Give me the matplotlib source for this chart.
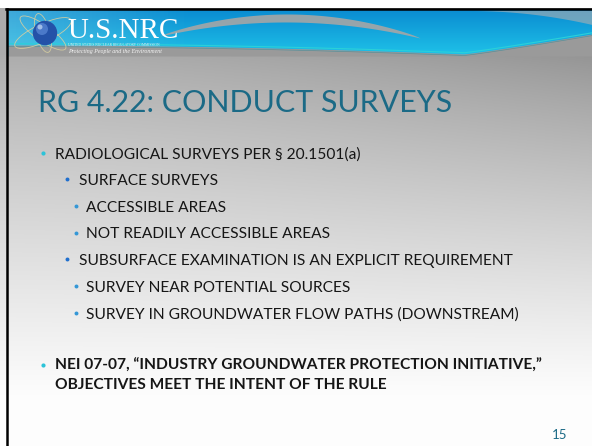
import numpy as np
import matplotlib
matplotlib.use('Agg')
import matplotlib.pyplot as plt
from matplotlib.patches import Circle, Ellipse

# slide content
title_text = "RG 4.22: CONDUCT SURVEYS"
bullet_texts = [
    "RADIOLOGICAL SURVEYS PER § 20.1501(a)",
    "SURFACE SURVEYS",
    "ACCESSIBLE AREAS",
    "NOT READILY ACCESSIBLE AREAS",
    "SUBSURFACE EXAMINATION IS AN EXPLICIT REQUIREMENT",
    "SURVEY NEAR POTENTIAL SOURCES",
    "SURVEY IN GROUNDWATER FLOW PATHS (DOWNSTREAM)",
]
bullet_levels = [1, 2, 3, 3, 2, 3, 3]
closing_lines = [
    "NEI 07-07, \u201cINDUSTRY GROUNDWATER PROTECTION INITIATIVE,\u201d",
    "OBJECTIVES MEET THE INTENT OF THE RULE",
]
page_number = "15"
logo_text = "U.S.NRC"
logo_sub1 = "UNITED STATES NUCLEAR REGULATORY COMMISSION"
logo_sub2 = "Protecting People and the Environment"

W, H = 592, 446
FONT = ['Lato', 'DejaVu Sans']
TEAL = '#1b6a86'
BODY = 11.2
dot_x = {1: 43, 2: 67, 3: 76}
text_x = {1: 55, 2: 79, 3: 86}
dot_col = {1: '#2cc3d8', 2: '#1f6fce', 3: '#3497d6'}

fig = plt.figure(figsize=(W / 100, H / 100), dpi=100)
ax = fig.add_axes([0, 0, 1, 1])
ax.axis('off')

# --- slide background: grey at top fading to white at bottom
yy, xx = np.mgrid[0:H, 0:W].astype(float) + 0.5
t = np.clip((yy - 55) / 340, 0, 1)
g = 172 + 81 * t ** 0.85 - 24 * (xx / W) ** 1.5 * (1 - t) ** 1.5
img = np.dstack([g, g, g]) / 255.0
img[:8] = 1.0
ax.imshow(img, extent=[0, W, H, 0], zorder=0, aspect='auto', interpolation='nearest')
ax.set_xlim(0, W)
ax.set_ylim(H, 0)

# --- header band drawn as thin strips (dark blue top -> cyan bottom)
top = np.array([0.04, 0.55, 0.82])
bot = np.array([0.12, 0.76, 0.91])
for k in range(46):
    f = k / 45
    ax.fill_between([8, W], 10 + k, 11.1 + k, color=top * (1 - f) + bot * f, lw=0, zorder=1)
for c in range(0, 180, 4):
    ax.fill_between([8 + c, 12.2 + c], 10, 56, color='#8cd1e6', lw=0,
                    alpha=0.4 * (1 - c / 180), zorder=1.5)

# upper grey swoosh
sx = np.linspace(160, 420, 200)
s = (sx - 160) / 260
lower = 36 - 60 * s * (1 - s) + 2 * s
upper = lower - 8 * np.sin(np.pi * s) ** 0.7
ax.fill_between(sx, upper, lower, color='#a6a6a6', alpha=0.9, lw=0, zorder=2)
# top-right grey wedge
rx = np.linspace(470, W, 100)
ax.fill_between(rx, 10.5, 10.5 + 14 * ((rx - 470) / (W - 470)) ** 2, color='#b0b0b0',
                alpha=0.6, lw=0, zorder=2)
# lower grey swoosh
bx = np.linspace(8, W, 400)
u = (bx - 8) / (W - 8)
rise = np.clip((u - 0.78) / 0.22, 0, 1)
edge = np.where(u < 0.78, 45 + 9 * (u / 0.78) ** 2, 54 - 20 * rise ** 1.1)
ax.fill_between(bx, edge, 56, color='#9a9a9a', lw=0, zorder=2)
ax.plot(bx, edge - 1.2, color='#2bd0d8', lw=0.8, zorder=3)
ax.plot(bx, edge + 1.6, color='#2a8a9a', lw=0.5, alpha=0.6, zorder=3)

# frame lines
ax.plot([6, W], [9.2, 9.2], color='black', lw=1.8, zorder=4)
ax.plot([7, 7], [8.5, H], color='black', lw=1.8, zorder=4)

# --- logo
for ang, w_, h_ in [(-25, 62, 18), (35, 55, 16), (75, 40, 14)]:
    ax.add_patch(Ellipse((43, 33), w_, h_, angle=ang, fill=False,
                         ec='#d8cfa0', lw=0.6, alpha=0.9, zorder=5))
ax.add_patch(Circle((45, 33), 11.5, color='#2452a8', zorder=6))
ax.add_patch(Circle((42, 29), 6, color='#5c8ad8', alpha=0.7, lw=0, zorder=6))
ax.add_patch(Circle((40, 27), 2.5, color='#b8d0f0', alpha=0.8, lw=0, zorder=6))
ax.text(67, 38, logo_text, family='Liberation Serif', fontsize=21, color='white',
        va='baseline', ha='left', zorder=7)
ax.text(68, 45, logo_sub1, family='Liberation Serif', fontsize=2.6, color='#e8f0f4',
        va='center', ha='left', zorder=7)
ax.text(68, 51.5, logo_sub2, family='Liberation Serif', style='italic', fontsize=4.2,
        color='#f4f4f4', va='center', ha='left', zorder=7)

# --- title
ax.text(38, 111.5, title_text, family=FONT, fontsize=21.9, color=TEAL,
        va='baseline', ha='left', zorder=8)

# --- bullets
for i, (txt, lvl) in enumerate(zip(bullet_texts, bullet_levels)):
    base = 158.3 + 26.67 * i
    ax.scatter([dot_x[lvl]], [base - 5.5], s=9 if lvl == 1 else 8, color=dot_col[lvl],
               lw=0, zorder=8)
    ax.text(text_x[lvl], base, txt, family=FONT, fontsize=BODY, color='#161616',
            va='baseline', ha='left', zorder=8)

ax.scatter([dot_x[1]], [364.5], s=9, color=dot_col[1], lw=0, zorder=8)
for j, line in enumerate(closing_lines):
    ax.text(text_x[1], 370 + 19 * j, line, family=FONT, fontsize=BODY, weight='bold',
            color='#161616', va='baseline', ha='left', zorder=8)

ax.text(560, 439, page_number, family=FONT, fontsize=9.5, color=TEAL,
        va='baseline', ha='center', zorder=8)

fig.savefig('out.png', dpi=100)
